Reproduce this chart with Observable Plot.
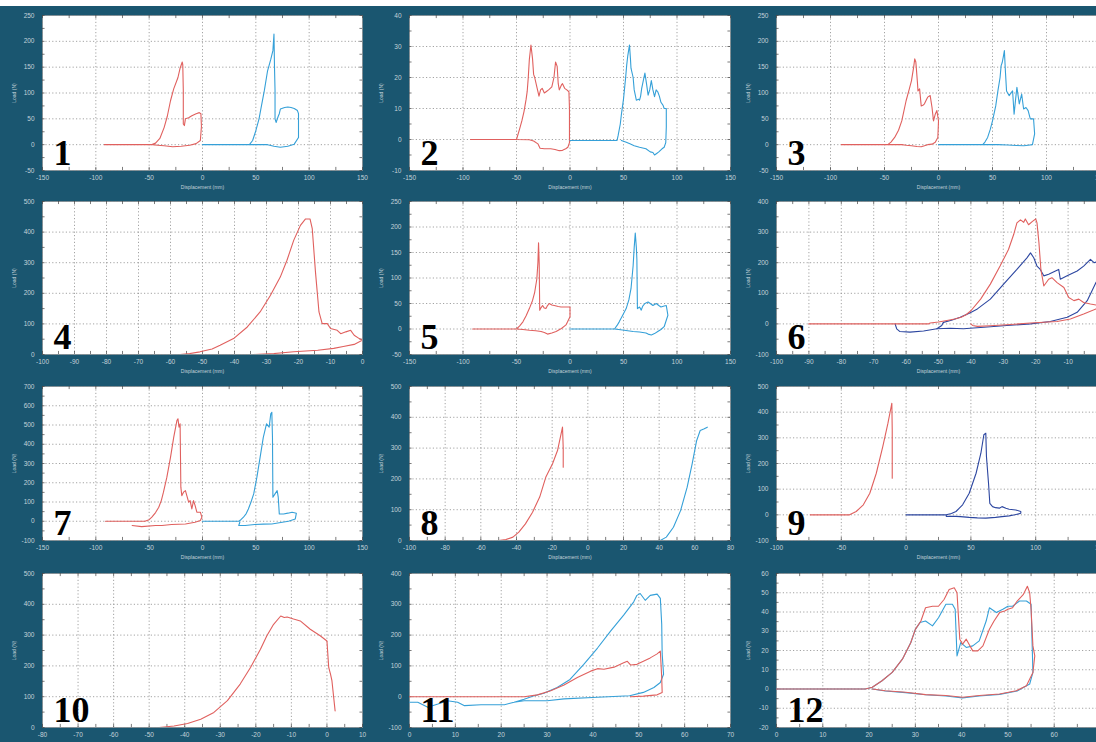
<!DOCTYPE html>
<html><head><meta charset="utf-8">
<script src="https://cdn.jsdelivr.net/npm/d3@7"></script>
<script src="https://cdn.jsdelivr.net/npm/@observablehq/plot@0.6"></script>
<style>
html,body{margin:0;padding:0;background:#fff;overflow:hidden;}
#wrap{position:relative;width:1096px;height:742px;overflow:hidden;background:#fff;}
#bg{position:absolute;left:0;top:6px;width:1096px;height:736px;background:#1a5670;}
</style></head><body><div id="wrap"><div id="bg"></div></div>
<script>
// ---------- data (displacement mm, load N) ----------
const xLabel = "Displacement (mm)";
const yLabel = "Load (N)";
const panelNames = ["1","2","3","4","5","6","7","8","9","10","11","12"];

const ticksX150 = [-150,-100,-50,0,50,100,150];
const ticksY250 = [-50,0,50,100,150,200,250];
const p2YTicks = [-10,0,10,20,30,40];
const p4XTicks = [-100,-90,-80,-70,-60,-50,-40,-30,-20,-10,0];
const p4YTicks = [0,100,200,300,400,500];
const p6YTicks = [-100,0,100,200,300,400];
const p7YTicks = [-100,0,100,200,300,400,500,600,700];
const p8XTicks = [-100,-80,-60,-40,-20,0,20,40,60,80];
const p9XTicks = [-100,-50,0,50,100,150];
const p9YTicks = [-100,0,100,200,300,400,500];
const p10XTicks = [-80,-70,-60,-50,-40,-30,-20,-10,0,10];
const p11XTicks = [0,10,20,30,40,50,60,70];
const p11YTicks = [-100,0,100,200,300,400];
const p12YTicks = [-20,-10,0,10,20,30,40,50,60];

const p1Red = [[-92,0],[-48,0],[-44,3],[-40,12],[-36,33],[-33,55],[-30,85],[-27,108],[-23,130],[-21,148],[-19,160],[-18.5,155],[-18,105],[-18,40],[-17,37],[-16,50],[-13,52],[-10,56],[-6,60],[-3,62],[-1.5,60],[-1,35],[-2,8],[-6,2],[-12,-1],[-20,-3],[-28,-4],[-36,-2],[-42,-1],[-47,0]];
const p1Blue = [[0,0],[44,0],[47,8],[50,27],[53,50],[55,72],[58,105],[61,143],[64,165],[66,182],[67,214],[67.5,150],[68,105],[68,50],[69,43],[71,55],[72,60],[73,69],[77,72],[80,73],[83,72],[86,70],[89,66],[90,60],[90,14],[86,1],[80,-3],[73,-5],[67,-3],[61,0],[52,0],[44,0]];

const p2Red = [[-93,0],[-50,0],[-47,3.5],[-45,6],[-43,9],[-41,13],[-40,15.5],[-39,20],[-38,25.8],[-36.5,30.5],[-35,26],[-34,21],[-33,20],[-31,17],[-29,14],[-27.5,16],[-26,16.5],[-24,15],[-22,15.5],[-20,16],[-17,17],[-15,20],[-13.5,25],[-12,23.6],[-11,18],[-10,16],[-8,17.6],[-7,18],[-5,16.5],[-3,16],[-1,15.4],[-0.5,10],[-0.5,-1],[-2,-2.5],[-4,-3],[-7,-3.5],[-10,-3.6],[-14,-3.2],[-18,-3],[-24,-3],[-28,-2.8],[-30,-1.4],[-34,-0.5],[-38,-0.1],[-50,0]];
const p2Blue = [[0,-0.3],[44,-0.3],[45,1.3],[47,5],[48,8],[50,13],[51,16.5],[52,20],[53,24],[54,27],[55.6,30.5],[56.5,26],[57,23],[59,20],[60,16],[62,12.7],[64,13],[65,12.7],[66,14],[67,16.5],[68.5,19],[70,21.4],[71.5,18],[73,14.3],[74.5,16],[76,19],[77.5,16],[79,13.8],[80.5,16],[82,15.4],[83.5,14],[85,12],[87,11],[88,10],[90,10],[90,4],[89.5,-1],[88,-2.5],[86,-3],[83,-4],[81,-4.5],[79,-5],[77.5,-4.2],[75,-4],[71,-3],[65,-2.5],[60,-2],[56,-1.4],[52,-0.8],[48,-0.3]];

const p3Red = [[-90,0],[-47,0],[-44,5],[-40.6,14],[-37,28],[-34,46],[-30,85],[-27,108],[-25,124],[-23,150],[-22,166],[-21,160],[-20.6,150],[-19.5,120],[-19,104],[-17.5,108],[-16,75],[-14,77],[-13,79],[-11,88],[-10,92],[-7.7,95],[-6,72],[-4.6,46],[-3,59],[-1.5,66],[0,46],[-0.6,14],[-3,4.5],[-6,1],[-10,0],[-13,-2],[-16,-4],[-20,-3.5],[-25,-2],[-30,-1],[-34,0],[-47,0]];
const p3Blue = [[0,0],[41,0],[43,5],[45.5,14],[48,30],[50,46],[53,75],[55,104],[57,130],[58,153],[59,159],[60,170],[61,182],[62,140],[63,104],[64,100],[65.5,95],[67,100],[68.6,104],[70,59],[71.5,90],[72.6,111],[74.8,79],[77,98],[78.8,69],[81,72],[83,66],[85,50],[88,50],[89,21],[87,0],[83,-1],[79,-2],[72,-1.5],[64,-0.6],[55,0],[41,0]];

const p4Red = [[-57,0],[-54,3],[-50.8,8.7],[-47,18],[-44.5,30],[-40.3,52],[-36,90],[-32,139],[-28.8,193],[-25.7,253],[-23.6,308],[-21.5,373],[-19.4,422],[-17.8,443],[-16.4,443],[-15.7,411],[-14.7,270],[-13.6,139],[-12.6,101],[-11,101],[-10,85],[-7.9,79],[-6.8,68],[-5.2,74],[-3.7,79],[-2.6,63],[-1,52],[0,47],[-2.6,33],[-6,26],[-9,20],[-14,14],[-21.5,9],[-27.7,3],[-34,0]];

const p5Red = [[-91,0],[-50,0],[-47,6],[-44,14],[-41,26],[-38,40],[-35,56],[-33,72],[-31,98],[-30,130],[-29.4,169],[-28.8,130],[-28.3,37],[-27,42],[-25.6,46],[-24,41],[-22.5,40],[-21,46],[-19.4,50],[-17,47],[-14.7,46],[-11,44],[-8.4,43],[-4,43],[0,43],[0,24],[-3.75,8],[-8,1],[-13,-5],[-17,-8],[-21,-10],[-24,-7],[-27,-5],[-32,-3.5],[-38,-2.6],[-44,-1],[-50,0]];
const p5Blue = [[0,0],[41.6,0],[44,7],[46,14],[49,26],[52.5,40],[55,57],[57,79],[59,124],[60,160],[61,188],[62,160],[62.5,137],[63,40],[65,43],[66.6,37],[68,45],[70,50],[73,53],[75,50],[77.5,46],[80.6,50],[83,46],[85,43],[88,45],[90,46],[91.5,27],[88,4.5],[85,-1],[82,-5],[79,-9],[76,-11.6],[73,-10],[71,-8],[65,-6],[59,-5],[54,-3.5],[49,-2],[41.6,0]];

const p6Red = [[-90,0],[-53,0],[-52.6,3],[-50,6],[-47.4,11],[-45,16],[-43,22],[-41.5,30],[-40,43],[-37,81],[-34,130],[-31,189],[-28.4,243],[-26.8,292],[-25.8,330],[-24.7,340],[-23.7,332],[-23.2,343],[-22.2,324],[-21,335],[-20,343],[-19.6,330],[-19,265],[-18.4,178],[-17.5,124],[-16,146],[-15,151],[-13.4,135],[-11.3,119],[-9.8,86],[-8.2,76],[-6.7,81],[-5.2,70],[-3.1,65],[-1.4,62],[0,60],[0,52],[-1.4,49],[-5.2,32],[-9.3,16],[-13.4,8],[-21.6,3],[-28.9,-3],[-34,-6],[-38,-8],[-39.5,-5],[-40,0]];
const p6BlueUpper = [[-50.5,-16],[-49,-5],[-48.5,5],[-46,12],[-43.3,22],[-40.5,35],[-38,49],[-34,81],[-29.9,130],[-25.8,178],[-22.7,216],[-21.6,232],[-20.6,216],[-19.6,189],[-18.6,178],[-17.5,157],[-16,162],[-13.9,173],[-12.9,178],[-12.4,146],[-10.3,157],[-7.2,173],[-5.2,189],[-3.1,211],[-2,200],[-1.4,202],[0,212]];
const p6BlueLower = [[-63.4,0],[-62.9,-16],[-61.9,-25],[-58.8,-27],[-54.6,-23],[-50.5,-16],[-46.4,-14],[-42.3,-16],[-36,-11],[-28.9,-5],[-21.6,0],[-15.5,8],[-10.3,22],[-7.2,38],[-4.1,76],[-1.4,135],[0,160]];

const p7Red = [[-91,0],[-54,0],[-50,8],[-47.5,21],[-44,45],[-41,73],[-38.5,110],[-36.6,151],[-33.4,229],[-30,332],[-27,436],[-24,523],[-23,532],[-22,489],[-21,506],[-20.3,177],[-19.4,133],[-17.8,151],[-16,159],[-14.7,133],[-13,99],[-11.6,107],[-10,64],[-8.4,107],[-6.9,81],[-5.3,47],[-2,47],[-0.6,21],[-2,3.5],[-7,-5],[-16,-14],[-29,-17],[-38,-22],[-44,-22],[-57,-28],[-66,-22]];
const p7Blue = [[0,0],[34,0],[36,8],[38.4,21],[41,40],[43,64],[45.5,100],[48,142],[51,229],[54,332],[57,436],[60,506],[62.5,489],[64,558],[65,566],[65.6,436],[66,125],[68,142],[70,159],[71,125],[72,38],[76,38],[80,42],[84,47],[88,42],[87,12],[80.6,0],[72,-8],[65,-14],[57,-15],[49,-17],[40,-22],[34,-22],[35,-5]];

const p8Red = [[-68.9,0],[-50,0],[-46,3],[-42,11],[-38.7,27],[-35,54],[-31,92],[-27,141],[-23.6,205],[-19.8,249],[-17,292],[-15,346],[-14.2,368],[-13.8,300],[-13.8,238]];
const p8Blue = [[0,0],[40.6,0],[44,11],[48,43],[52,97],[55.7,173],[58.5,249],[61,324],[63,357],[65,362],[67,368]];

const p9Red = [[-74,0],[-43.6,0],[-38.5,13],[-33,39],[-28,84],[-23,162],[-18,266],[-14,357],[-11.5,422],[-11,435],[-10.7,330],[-10.7,143]];
const p9Blue = [[0,0],[31,0],[35,5],[38.5,13],[43.6,39],[48.7,84],[54,162],[57.7,240],[60,312],[61.5,318],[62,227],[63.6,123],[64.6,45],[66.7,32],[69,28],[72,26],[74,32],[77,26],[79.5,22],[84.6,19],[88.5,13],[88.5,6],[84,0],[79.5,-4],[74,-7],[69,-10],[61.5,-13],[55,-12],[48.7,-10],[42,-7],[38.5,-6],[31,-6],[31,0]];

const p10Red = [[-47.2,0],[-43,5],[-39.2,13],[-35.5,27],[-31.8,49],[-28,87],[-24.4,141],[-21.5,195],[-18.7,254],[-16.9,298],[-15,335],[-13,362],[-12,357],[-11.2,359],[-9.4,352],[-7.5,346],[-4.7,319],[-1.9,298],[0,281],[0.5,195],[1,173],[1.4,152],[2.3,54]];

const p11Red = [[0,0],[25,0],[27.9,6],[30.8,19],[33.7,38],[36.6,62],[39.5,83],[41,91],[42.4,89],[44.6,96],[46.7,110],[47.5,115],[48.2,103],[49.6,105],[51,115],[52.5,126],[54,139],[54.7,148],[55,62],[55.1,14],[54,6],[51,2],[48.2,0]];
const p11Blue = [[0,-18],[1.8,-18],[4,-34],[6.2,-24],[8.3,-13],[10.5,-18],[12,-29],[15.6,-26],[20.7,-26],[22.8,-18],[25,-8],[27,2],[29.3,11],[32.2,30],[35,56],[38,105],[41,158],[43.8,212],[46.7,265],[48.9,308],[49.6,329],[50.3,335],[51.4,313],[52.5,329],[54,333],[54.7,319],[55,235],[55.1,139],[55.4,73],[54.7,46],[53.3,30],[51,14],[48,3],[41,-2],[33.7,-7],[30,-13],[25,-13],[22.8,-18]];

const p12Red = [[0,0],[19.2,0],[20.7,0.9],[22.8,4.3],[25,8.6],[27.2,15.5],[29,24],[30,31],[31.2,35.3],[32.2,42.2],[33.7,43],[35,43],[36.2,46.5],[37.3,51.7],[38.4,52.6],[39,50],[39.6,25.9],[40.2,23.3],[41,25.9],[41.6,23.3],[42.4,19.8],[43.5,19.8],[44.6,22.4],[46,31],[47,35.3],[48.2,39.7],[49.3,40.5],[50,41.4],[51,42.2],[52,45.7],[53.3,49],[54.2,53.4],[54.7,50],[55,41.4],[55.4,22.4],[55.8,17.2],[55.4,8.6],[54,1.7],[51.8,-0.9],[48.2,-2.6],[43.8,-3.4],[40.2,-4.3],[36.6,-3.4],[32.2,-2.9],[27.9,-1.7],[23.5,-0.9],[20.7,0]];
const p12Blue = [[0,0],[19.2,0],[20.7,0.9],[22.8,4.3],[25,8.6],[27.2,15.5],[29,24],[30,31],[31,34.5],[32.2,35.3],[33.7,32.8],[35,37],[36.6,44],[38,44],[38.6,41.4],[39,17.2],[39.8,24.1],[41,21.6],[42.4,22.4],[43.8,25],[45.3,35.3],[46,42.2],[47.5,39.7],[48.9,41.4],[50,43],[51,43],[52.5,45.7],[54,45.7],[55,44],[55.4,8.6],[54.7,2.6],[52,-1],[48.2,-2.8],[43.8,-3.6],[40.2,-4.6],[36.6,-3.6],[32.2,-3],[27.9,-1.9],[23.5,-1],[20.7,0]];

// ---------- styles & layout ----------
const RED = "#e0605e", LBLUE = "#35a0d8", DBLUE = "#2c46a0";
const colX = [[42,362],[409,730],[776,1100]];
const rowY = [[15,170],[201,354],[386,540],[573,727]];

const panels = [
  {col:0,row:0,xT:ticksX150,yT:ticksY250,s:[[p1Red,RED],[p1Blue,LBLUE]]},
  {col:1,row:0,xT:ticksX150,yT:p2YTicks,s:[[p2Red,RED],[p2Blue,LBLUE]]},
  {col:2,row:0,xT:ticksX150,yT:ticksY250,s:[[p3Red,RED],[p3Blue,LBLUE]]},
  {col:0,row:1,xT:p4XTicks,yT:p4YTicks,s:[[p4Red,RED]]},
  {col:1,row:1,xT:ticksX150,yT:ticksY250,s:[[p5Red,RED],[p5Blue,LBLUE]]},
  {col:2,row:1,xT:p4XTicks,yT:p6YTicks,s:[[p6BlueUpper,DBLUE],[p6BlueLower,DBLUE],[p6Red,RED]]},
  {col:0,row:2,xT:ticksX150,yT:p7YTicks,s:[[p7Red,RED],[p7Blue,LBLUE]]},
  {col:1,row:2,xT:p8XTicks,yT:p4YTicks,s:[[p8Red,RED],[p8Blue,LBLUE]]},
  {col:2,row:2,xT:p9XTicks,yT:p9YTicks,s:[[p9Red,RED],[p9Blue,DBLUE]]},
  {col:0,row:3,xT:p10XTicks,yT:p4YTicks,s:[[p10Red,RED]]},
  {col:1,row:3,xT:p11XTicks,yT:p11YTicks,s:[[p11Blue,LBLUE],[p11Red,RED]]},
  {col:2,row:3,xT:p11XTicks,yT:p12YTicks,s:[[p12Blue,LBLUE],[p12Red,RED]]}
];

const wrap = document.getElementById("wrap");
const mL = 40, mR = 6, mT = 6, mB = 24;
const TXT = "#c3d2d9";

panels.forEach((p, i) => {
  const [l, r] = colX[p.col], [t, b] = rowY[p.row];
  const xd = [d3.min(p.xT), d3.max(p.xT)], yd = [d3.min(p.yT), d3.max(p.yT)];
  const ySpan = yd[1] - yd[0], xSpan = xd[1] - xd[0];
  const xStep = (p.xT[1] - p.xT[0]) / 2, yStep = (p.yT[1] - p.yT[0]) / 2;
  const minorX = d3.range(xd[0], xd[1] + xStep / 10, xStep);
  const minorY = d3.range(yd[0], yd[1] + yStep / 10, yStep);
  const data = p.s.flatMap(([pts, c], k) => pts.map(([x, y]) => ({x, y, k, c})));
  const svg = Plot.plot({
    width: r - l + mL + mR, height: b - t + mT + mB,
    marginLeft: mL, marginRight: mR, marginTop: mT, marginBottom: mB,
    style: {background: "transparent", color: TXT, fontFamily: "Liberation Sans, Arial, sans-serif", overflow: "visible"},
    x: {domain: xd}, y: {domain: yd},
    color: {type: "identity"},
    marks: [
      Plot.frame({fill: "white", stroke: "#7d8d96", strokeWidth: 0.8}),
      Plot.gridX(p.xT, {stroke: "#8c8c8c", strokeOpacity: 0.8, strokeDasharray: "1.2,2.2"}),
      Plot.gridY(p.yT, {stroke: "#8c8c8c", strokeOpacity: 0.8, strokeDasharray: "1.2,2.2"}),
      Plot.ruleX(minorX, {y1: yd[0], y2: yd[0] + ySpan * 0.02, stroke: "#444", strokeWidth: 0.7}),
      Plot.ruleX(minorX, {y1: yd[1], y2: yd[1] - ySpan * 0.02, stroke: "#444", strokeWidth: 0.7}),
      Plot.ruleY(minorY, {x1: xd[0], x2: xd[0] + xSpan * 0.008, stroke: "#444", strokeWidth: 0.7}),
      Plot.ruleY(minorY, {x1: xd[1], x2: xd[1] - xSpan * 0.008, stroke: "#444", strokeWidth: 0.7}),
      Plot.line(data, {x: "x", y: "y", z: "k", stroke: "c", strokeWidth: 1.1, clip: true, curve: "linear"}),
      Plot.axisX(p.xT, {tickSize: 0, tickPadding: 5, fontSize: 6.5, tickFormat: d => String(d),
        label: xLabel, labelAnchor: "center", labelArrow: "none", labelOffset: 18}),
      Plot.axisY(p.yT, {tickSize: 0, tickPadding: 8, fontSize: 6.5, tickFormat: d => String(d),
        label: yLabel, labelAnchor: "center", labelArrow: "none", labelOffset: 30}),
      Plot.text([panelNames[i]], {frameAnchor: "bottom-left", dx: 11, dy: -6, text: d => d,
        fontSize: 36, fontWeight: "bold", fontFamily: "Liberation Serif, Times New Roman, serif",
        fill: "black", textAnchor: "start", lineAnchor: "bottom"})
    ]
  });
  svg.style.position = "absolute";
  svg.style.left = (l - mL) + "px";
  svg.style.top = (t - mT) + "px";
  svg.style.maxWidth = "none";
  svg.querySelectorAll("[aria-label='x-axis label'] text, [aria-label='y-axis label'] text").forEach(e => e.setAttribute("font-size", "5"));
  wrap.appendChild(svg);
});
</script></body></html>
